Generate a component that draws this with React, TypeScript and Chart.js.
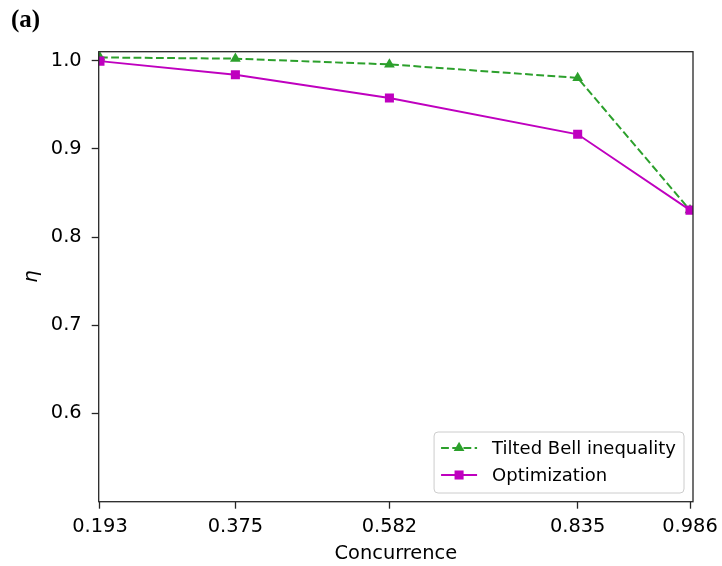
import React, { useEffect, useRef } from 'react';
import { Chart, registerables } from 'chart.js';

Chart.register(...registerables);

const concurrence = [0.193, 0.375, 0.582, 0.835, 0.986];
const xTickLabels = ['0.193', '0.375', '0.582', '0.835', '0.986'];
const tiltedBell = [1.0037, 1.0023, 0.9958, 0.9805, 0.8305];
const optimization = [0.9995, 0.984, 0.9577, 0.9165, 0.8305];
const yTicks = [0.6, 0.7, 0.8, 0.9, 1.0];
const seriesLabels = ['Tilted Bell inequality', 'Optimization'];
const panelLabel = '(a)';

const GREEN = '#2ca02c';
const MAGENTA = '#bf00bf';
const INK = '#262626';

export default function App() {
  const ref = useRef<HTMLCanvasElement | null>(null);

  useEffect(() => {
    if (!ref.current) return;

    const framePlugin = {
      id: 'framePlugin',
      afterDatasetsDraw(chart: any) {
        const { ctx, chartArea: ca } = chart;
        ctx.save();
        ctx.strokeStyle = INK;
        ctx.lineWidth = 1.3;
        ctx.strokeRect(ca.left, ca.top, ca.right - ca.left, ca.bottom - ca.top);
        ctx.restore();
      },
      afterDraw(chart: any) {
        const { ctx, chartArea: ca } = chart;
        ctx.save();
        // legend
        ctx.font = '18px "DejaVu Sans"';
        const tw = Math.max(...seriesLabels.map((t) => ctx.measureText(t).width));
        const boxW = 58 + tw + 8;
        const boxH = 61;
        const bx = ca.right - 9 - boxW;
        const by = ca.bottom - 8.7 - boxH;
        ctx.beginPath();
        (ctx as any).roundRect(bx, by, boxW, boxH, 4);
        ctx.fillStyle = 'rgba(255,255,255,0.8)';
        ctx.fill();
        ctx.strokeStyle = '#cccccc';
        ctx.lineWidth = 1;
        ctx.stroke();
        const rows = [by + 16, by + 43];
        chart.data.datasets.forEach((ds: any, i: number) => {
          const y = rows[i];
          ctx.strokeStyle = ds.borderColor;
          ctx.lineWidth = ds.borderWidth;
          ctx.setLineDash(ds.borderDash || []);
          ctx.beginPath();
          ctx.moveTo(bx + 7, y);
          ctx.lineTo(bx + 43, y);
          ctx.stroke();
          ctx.setLineDash([]);
          ctx.fillStyle = ds.pointBackgroundColor;
          const cx = bx + 25;
          const r = ds.pointRadius;
          ctx.beginPath();
          if (ds.pointStyle === 'triangle') {
            const w = r * Math.sqrt(3) / 2;
            ctx.moveTo(cx, y - r);
            ctx.lineTo(cx + w, y + r / 2);
            ctx.lineTo(cx - w, y + r / 2);
            ctx.closePath();
          } else {
            const s = r * Math.SQRT1_2;
            ctx.rect(cx - s, y - s, 2 * s, 2 * s);
          }
          ctx.fill();
          ctx.fillStyle = '#000';
          ctx.textBaseline = 'middle';
          ctx.textAlign = 'left';
          ctx.fillText(ds.label, bx + 58, y + 1);
        });
        // panel label
        ctx.font = 'bold 25px "Liberation Serif"';
        ctx.fillStyle = '#000';
        ctx.textBaseline = 'alphabetic';
        ctx.fillText(panelLabel, 11, 27);
        ctx.restore();
      },
    };

    const tickFont = { family: 'DejaVu Sans', size: 19.4 };

    const chart = new Chart(ref.current, {
      type: 'line',
      data: {
        datasets: [
          {
            label: seriesLabels[0],
            data: concurrence.map((x, i) => ({ x, y: tiltedBell[i] })),
            borderColor: GREEN,
            backgroundColor: GREEN,
            pointBackgroundColor: GREEN,
            pointBorderColor: GREEN,
            borderWidth: 2,
            borderDash: [7.8, 3.4],
            pointStyle: 'triangle',
            pointRadius: 6.2,
            pointBorderWidth: 0,
            fill: false,
            tension: 0,
            order: 1,
          },
          {
            label: seriesLabels[1],
            data: concurrence.map((x, i) => ({ x, y: optimization[i] })),
            borderColor: MAGENTA,
            backgroundColor: MAGENTA,
            pointBackgroundColor: MAGENTA,
            pointBorderColor: MAGENTA,
            borderWidth: 1.9,
            pointStyle: 'rect',
            pointRadius: 6.4,
            pointBorderWidth: 0,
            fill: false,
            tension: 0,
            order: 0,
          },
        ] as any,
      },
      options: {
        animation: false,
        responsive: false,
        devicePixelRatio: 1,
        layout: { padding: { left: 0, top: 51.7, right: 29, bottom: 0 } },
        plugins: {
          legend: { display: false },
          tooltip: { enabled: false },
        },
        scales: {
          x: {
            type: 'linear',
            min: 0.1913,
            max: 0.99,
            afterBuildTicks: (s: any) => {
              s.ticks = concurrence.map((v) => ({ value: v }));
            },
            afterFit: (s: any) => {
              s.height = 64.3;
              s.paddingLeft = 0;
              s.paddingRight = 0;
            },
            ticks: {
              autoSkip: false,
              maxRotation: 0,
              padding: 7,
              color: '#000',
              font: tickFont,
              callback: (_v: any, i: number) => xTickLabels[i],
            },
            grid: {
              display: true,
              drawOnChartArea: false,
              drawTicks: true,
              tickLength: 7,
              tickWidth: 1.3,
              tickColor: INK,
            },
            border: { display: false },
            title: {
              display: true,
              text: 'Concurrence',
              color: '#000',
              font: tickFont,
              padding: { top: 0, bottom: 0 },
            },
          },
          y: {
            type: 'linear',
            min: 0.4998,
            max: 1.0102,
            afterBuildTicks: (s: any) => {
              s.ticks = yTicks.map((v) => ({ value: v }));
            },
            afterFit: (s: any) => {
              s.width = 98.7;
              s.paddingTop = 0;
              s.paddingBottom = 0;
            },
            ticks: {
              padding: 10,
              color: '#000',
              font: tickFont,
              callback: (v: any) => Number(v).toFixed(1),
            },
            grid: {
              display: true,
              drawOnChartArea: false,
              drawTicks: true,
              tickLength: 7,
              tickWidth: 1.3,
              tickColor: INK,
            },
            border: { display: false },
            title: {
              display: true,
              text: 'η',
              color: '#000',
              font: { family: 'DejaVu Sans', size: 19.4, style: 'italic' },
              padding: { top: 20, bottom: 0 },
            },
          },
        },
      } as any,
      plugins: [framePlugin],
    });

    return () => chart.destroy();
  }, []);

  return (
    <div style={{ position: 'absolute', left: 0, top: 0, width: 722, height: 566 }}>
      <canvas ref={ref} width={722} height={566} style={{ display: 'block' }} />
    </div>
  );
}
